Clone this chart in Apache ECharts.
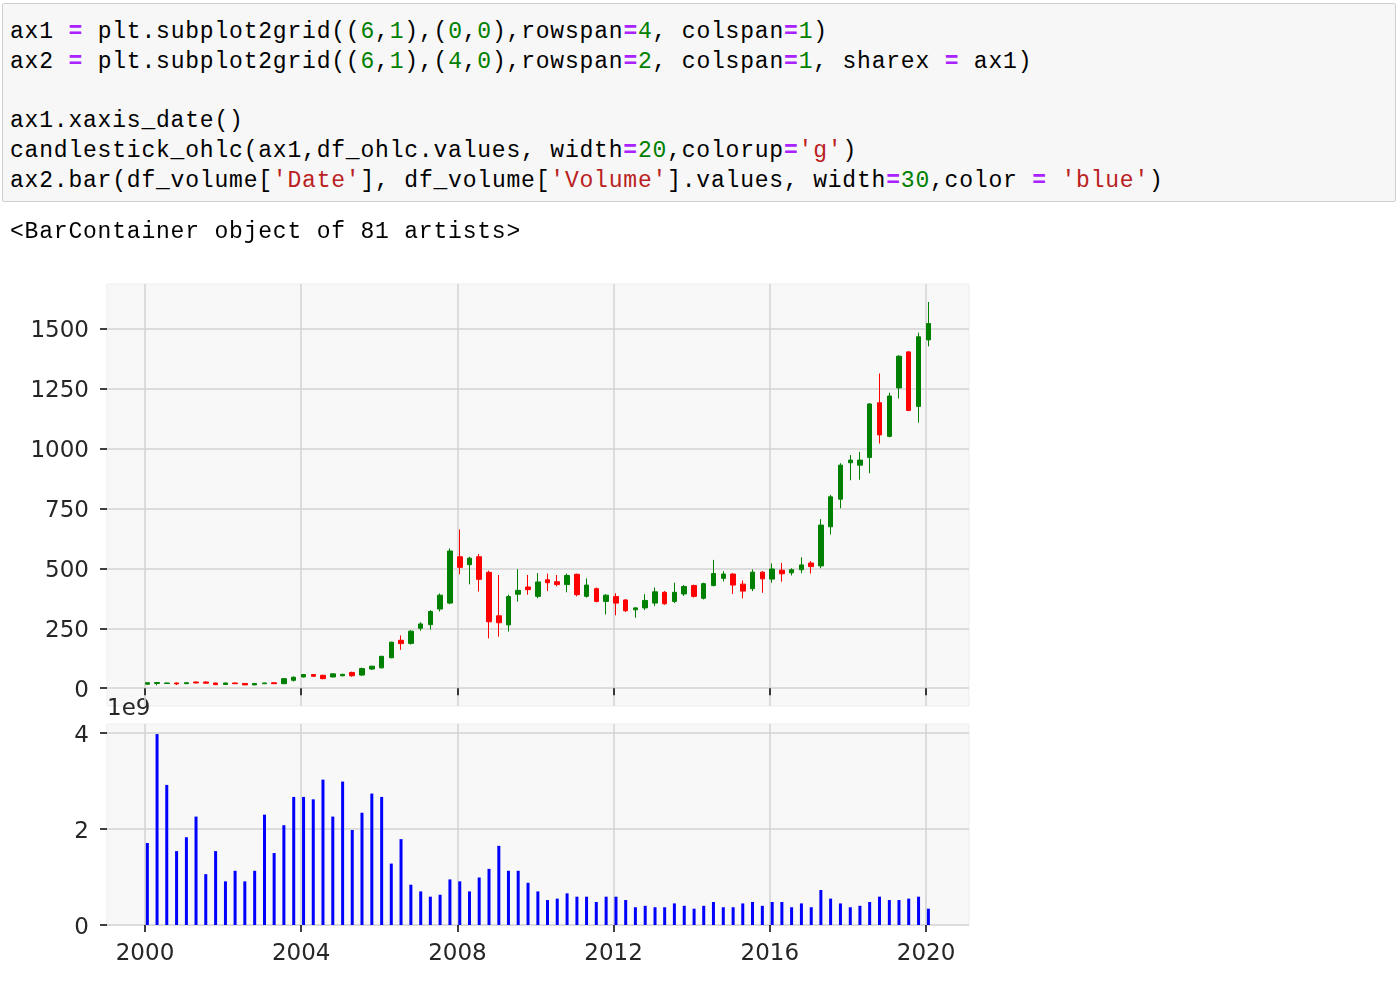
<!DOCTYPE html>
<html>
<head>
<meta charset="utf-8">
<script src="https://cdn.jsdelivr.net/npm/echarts@6/dist/echarts.min.js"></script>
<style>
  html, body { margin:0; padding:0; background:#ffffff; width:1400px; height:984px; overflow:hidden; }
  #chart { position:absolute; left:0; top:0; width:1400px; height:984px; }
  #cell { position:absolute; left:2px; top:3px; width:1392px; height:197px; background:#f7f7f7; border:1px solid #cfcfcf; border-radius:2px; }
  pre { position:absolute; margin:0; font-family:'Liberation Mono', monospace; font-size:23px; line-height:29.7px; letter-spacing:0.8px; color:#000; }
  #code { left:10px; top:18px; }
  #out { left:10px; top:218px; }
  .o { color:#aa22ff; font-weight:bold; }
  .n { color:#008000; }
  .s { color:#ba2121; }
</style>
</head>
<body>
<div id="chart"></div>
<div id="cell"></div>
<pre id="code">ax1 <span class="o">=</span> plt.subplot2grid((<span class="n">6</span>,<span class="n">1</span>),(<span class="n">0</span>,<span class="n">0</span>),rowspan<span class="o">=</span><span class="n">4</span>, colspan<span class="o">=</span><span class="n">1</span>)
ax2 <span class="o">=</span> plt.subplot2grid((<span class="n">6</span>,<span class="n">1</span>),(<span class="n">4</span>,<span class="n">0</span>),rowspan<span class="o">=</span><span class="n">2</span>, colspan<span class="o">=</span><span class="n">1</span>, sharex <span class="o">=</span> ax1)

ax1.xaxis_date()
candlestick_ohlc(ax1,df_ohlc.values, width<span class="o">=</span><span class="n">20</span>,colorup<span class="o">=</span><span class="s">'g'</span>)
ax2.bar(df_volume[<span class="s">'Date'</span>], df_volume[<span class="s">'Volume'</span>].values, width<span class="o">=</span><span class="n">30</span>,color <span class="o">=</span> <span class="s">'blue'</span>)</pre>
<pre id="out">&lt;BarContainer object of 81 artists&gt;</pre>
<script>
// Quarterly dates (one candle / one volume bar each)
const quarters = [
  '2000-01','2000-04','2000-07','2000-10','2001-01','2001-04','2001-07','2001-10',
  '2002-01','2002-04','2002-07','2002-10','2003-01','2003-04','2003-07','2003-10',
  '2004-01','2004-04','2004-07','2004-10','2005-01','2005-04','2005-07','2005-10',
  '2006-01','2006-04','2006-07','2006-10','2007-01','2007-04','2007-07','2007-10',
  '2008-01','2008-04','2008-07','2008-10','2009-01','2009-04','2009-07','2009-10',
  '2010-01','2010-04','2010-07','2010-10','2011-01','2011-04','2011-07','2011-10',
  '2012-01','2012-04','2012-07','2012-10','2013-01','2013-04','2013-07','2013-10',
  '2014-01','2014-04','2014-07','2014-10','2015-01','2015-04','2015-07','2015-10',
  '2016-01','2016-04','2016-07','2016-10','2017-01','2017-04','2017-07','2017-10',
  '2018-01','2018-04','2018-07','2018-10','2019-01','2019-04','2019-07','2019-10',
  '2020-01'
];
const openP = [17,20,20,22,19,26,26,22,16,22,20,14,19,23,19,33,47,57,54,47,52,66,55,80,85,127,200,187,250,265,330,355,548,515,548,483,302,264,392,422,383,452,444,432,475,383,415,362,382,368,327,335,355,400,362,393,428,375,428,458,476,434,415,484,455,492,481,494,522,510,673,788,940,930,962,1190,1050,1252,1402,1175,1452];
const closeP = [23,24,22,18,23,22,21,15,22,19,14,20,22,19,40,46,57,50,40,60,58,52,82,92,133,192,186,238,268,320,388,572,504,542,454,277,273,382,408,411,443,440,432,470,390,430,362,388,355,323,335,366,402,352,400,424,383,436,478,476,430,405,484,456,497,477,494,514,507,680,798,930,951,951,1185,1056,1218,1384,1158,1465,1520];
const lowP = [15,12,19,14,18,21,20,14,14,18,13,13,18,18,18,28,46,48,37,46,50,48,51,76,83,125,160,182,240,245,320,350,475,433,403,208,215,236,361,390,375,405,425,400,383,378,358,308,304,318,294,326,342,348,355,385,378,370,425,445,393,375,405,398,440,444,470,479,478,500,641,750,867,869,896,1020,1046,1208,1155,1107,1425];
const highP = [25,25,23,23,24,28,29,23,23,23,21,21,23,24,42,49,58,58,56,62,60,69,86,93,135,194,220,242,275,325,395,583,662,548,560,490,472,390,496,472,480,478,472,478,478,458,420,392,396,372,338,392,420,405,440,430,432,440,535,488,480,449,495,488,520,522,500,546,530,705,806,938,972,985,1188,1312,1232,1388,1405,1482,1610];
// Volume, in units of 1e9
const volume = [1.71,3.98,2.92,1.54,1.83,2.26,1.06,1.54,0.91,1.13,0.91,1.13,2.30,1.50,2.08,2.67,2.67,2.62,3.03,2.26,2.99,1.98,2.34,2.74,2.67,1.28,1.79,0.84,0.70,0.59,0.63,0.95,0.91,0.70,0.99,1.17,1.65,1.13,1.13,0.88,0.70,0.52,0.55,0.66,0.59,0.59,0.48,0.59,0.59,0.52,0.37,0.40,0.37,0.37,0.45,0.40,0.34,0.40,0.48,0.37,0.37,0.45,0.48,0.40,0.48,0.48,0.37,0.45,0.37,0.73,0.55,0.45,0.37,0.40,0.48,0.59,0.52,0.52,0.55,0.59,0.34];
// Tick labels
const yearTicks = [2000,2004,2008,2012,2016,2020];
const priceTicks = [0,250,500,750,1000,1250,1500];
const volumeTicks = [0,2,4];

function toYear(q) {
  const [y, m] = q.split('-').map(Number);
  const t = Date.UTC(y, m - 1, 23), t0 = Date.UTC(y, 0, 1), t1 = Date.UTC(y + 1, 0, 1);
  return y + (t - t0) / (t1 - t0);
}
const xPos = quarters.map(toYear);
const candleData = xPos.map((x, i) => [x, openP[i], closeP[i], lowP[i], highP[i]]);
const volumeData = xPos.map((x, i) => [x, volume[i]]);

const FONT = 'DejaVu Sans';
const labelColor = '#262626';
const tickStyle = { color:'#000', width:1.5 };
const gridLine = { show:true, lineStyle:{ color:'#d3d3d3', width:1.5 } };

const chart = echarts.init(document.getElementById('chart'), null, { renderer:'canvas' });
chart.setOption({
  animation:false,
  backgroundColor:'transparent',
  grid:[
    { left:107, top:284, width:862, height:422, show:true, backgroundColor:'#f8f8f8', borderColor:'#ededed', borderWidth:1 },
    { left:107, top:724, width:862, height:201, show:true, backgroundColor:'#f8f8f8', borderColor:'#ededed', borderWidth:1 }
  ],
  xAxis:[
    { type:'value', gridIndex:0, min:1999.027, max:2021.10, position:'bottom',
      axisLine:{ show:false },
      axisTick:{ show:true, length:7, lineStyle:tickStyle, customValues:yearTicks },
      axisLabel:{ show:false, customValues:yearTicks },
      splitLine:gridLine },
    { type:'value', gridIndex:1, min:1999.027, max:2021.10, position:'bottom',
      axisLine:{ show:false },
      axisTick:{ show:true, length:7, lineStyle:tickStyle, customValues:yearTicks },
      axisLabel:{ show:true, customValues:yearTicks, formatter:v => String(v), fontFamily:FONT, fontSize:23, color:labelColor, margin:18 },
      splitLine:gridLine }
  ],
  yAxis:[
    { type:'value', gridIndex:0, min:-74, max:1685,
      axisLine:{ show:false },
      axisTick:{ show:true, length:7, lineStyle:tickStyle, customValues:priceTicks },
      axisLabel:{ show:true, customValues:priceTicks, formatter:v => String(v), fontFamily:FONT, fontSize:23, color:labelColor, margin:18, verticalAlign:'top', lineHeight:6 },
      splitLine:gridLine },
    { type:'value', gridIndex:1, min:0, max:4.19,
      axisLine:{ show:false },
      axisTick:{ show:true, length:7, lineStyle:tickStyle, customValues:volumeTicks },
      axisLabel:{ show:true, customValues:volumeTicks, formatter:v => String(v), fontFamily:FONT, fontSize:23, color:labelColor, margin:18, verticalAlign:'top', lineHeight:6 },
      splitLine:gridLine }
  ],
  series:[
    { type:'candlestick', xAxisIndex:0, yAxisIndex:0, data:candleData, barWidth:5,
      itemStyle:{ color:'#008000', color0:'#ff0000', borderColor:'#008000', borderColor0:'#ff0000', borderWidth:1 } },
    { type:'bar', xAxisIndex:1, yAxisIndex:1, data:volumeData, barWidth:3,
      itemStyle:{ color:'#0000ff' } }
  ],
  graphic:[
    { type:'text', left:107, top:698, style:{ text:'1e9', font:'23px "DejaVu Sans"', fill:labelColor } }
  ]
});
</script>
</body>
</html>
